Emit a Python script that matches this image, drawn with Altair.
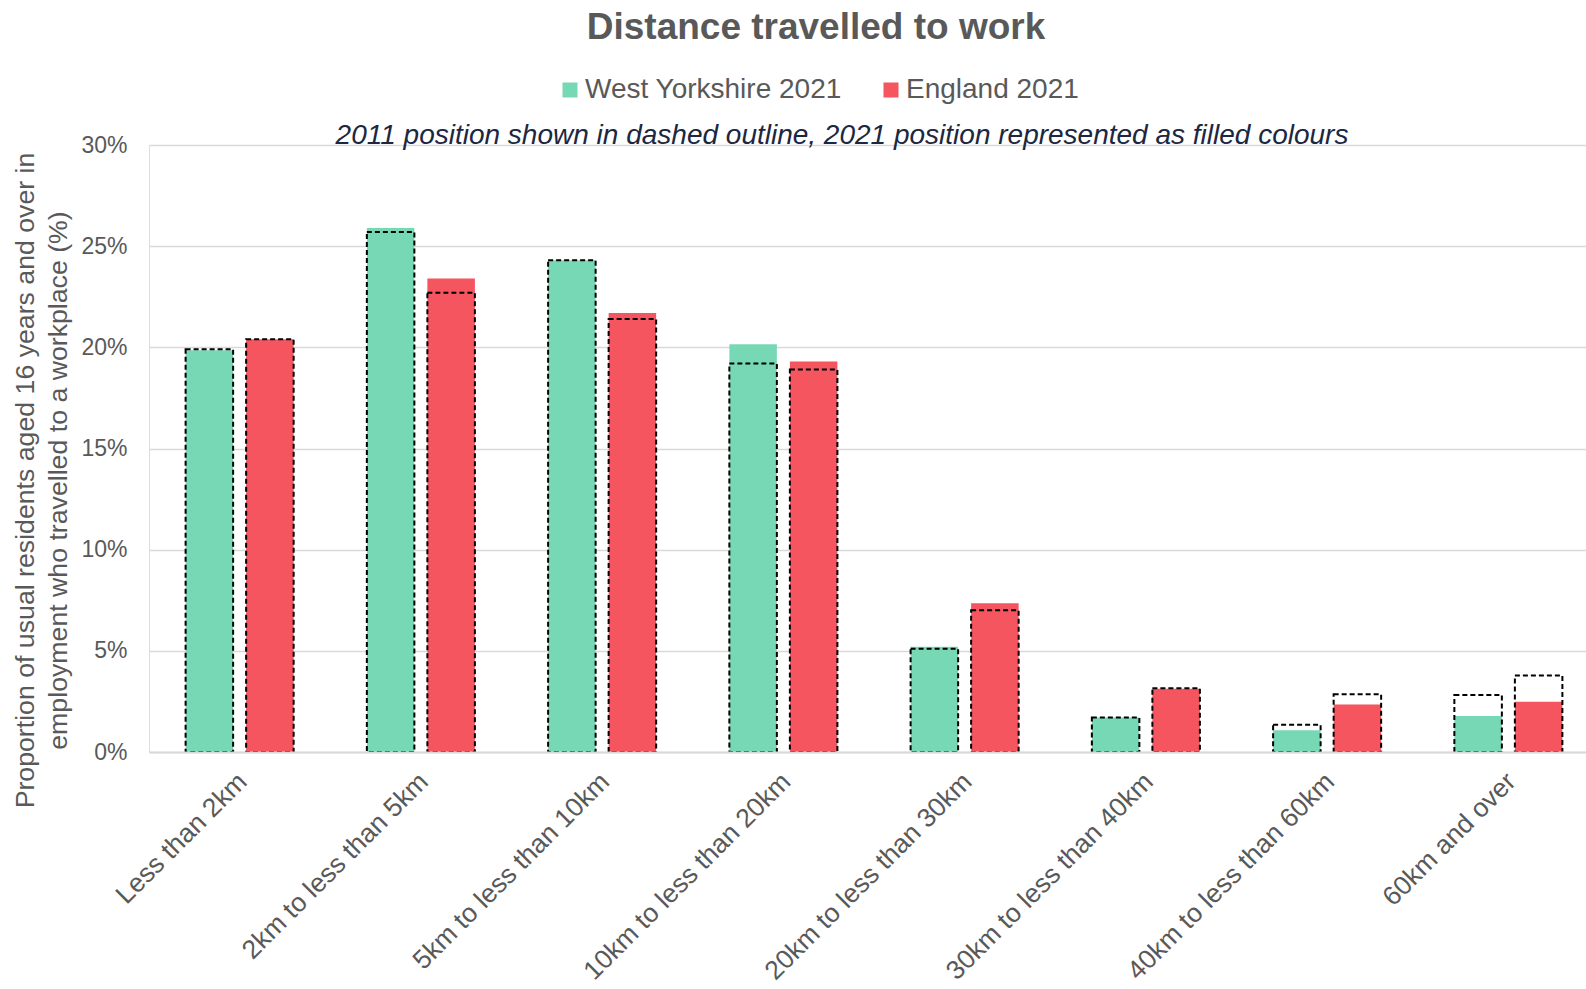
import altair as alt
import pandas as pd

categories = [
    "Less than 2km",
    "2km to less than 5km",
    "5km to less than 10km",
    "10km to less than 20km",
    "20km to less than 30km",
    "30km to less than 40km",
    "40km to less than 60km",
    "60km and over",
]
series_names = ["West Yorkshire 2021", "England 2021"]
series_colors = ["#77D8B6", "#F4555F"]

wy_2021 = [19.85, 25.9, 24.3, 20.15, 5.2, 1.7, 1.07, 1.78]
eng_2021 = [20.4, 23.4, 21.7, 19.3, 7.35, 3.12, 2.35, 2.48]
wy_2011 = [19.9, 25.7, 24.3, 19.2, 5.1, 1.7, 1.35, 2.82]
eng_2011 = [20.4, 22.7, 21.4, 18.9, 7.0, 3.15, 2.85, 3.78]

title_text = "Distance travelled to work"
subtitle_text = "2011 position shown in dashed outline, 2021 position represented as filled colours"
y_title = ["Proportion of usual residents aged 16 years and over in",
           "employment who travelled to a workplace (%)"]

rows = []
for i, c in enumerate(categories):
    rows.append({"category": c, "series": series_names[0], "v2021": wy_2021[i], "v2011": wy_2011[i]})
    rows.append({"category": c, "series": series_names[1], "v2021": eng_2021[i], "v2011": eng_2011[i]})
df = pd.DataFrame(rows)

GREY = "#595959"

x_enc = alt.X(
    "category:N",
    sort=categories,
    scale=alt.Scale(range=[0, 1450], paddingInner=0.404, paddingOuter=0.202),
    axis=alt.Axis(
        title=None,
        labelAngle=-45,
        labelFontSize=26.5,
        labelColor=GREY,
        labelFont="Liberation Sans",
        labelPadding=16,
        labelOffset=-6,
        ticks=False,
        domain=True,
        domainColor="#D9D9D9",
        domainWidth=2,
        zindex=1,
        labelLimit=0,
    ),
)
xo_enc = alt.XOffset(
    "series:N",
    sort=series_names,
    scale=alt.Scale(paddingInner=0.215, paddingOuter=0),
)

y_scale = alt.Scale(domain=[0, 30], nice=False)
y_axis = alt.Axis(
    values=[0, 5, 10, 15, 20, 25, 30],
    labelExpr="datum.value + '%'",
    labelFontSize=23,
    labelColor=GREY,
    labelFont="Liberation Sans",
    labelPadding=22,
    ticks=False,
    domain=False,
    grid=True,
    gridColor="#D9D9D9",
    gridWidth=1.5,
    title=y_title,
    titleFontSize=26.7,
    titleFontWeight="normal",
    titleColor=GREY,
    titleFont="Liberation Sans",
    titleLineHeight=33,
    titleAngle=270,
    titleBaseline="top",
    titleAlign="center",
    titleX=-137,
    titleY=335,
)

base = alt.Chart(df).encode(x=x_enc, xOffset=xo_enc)

fill = base.mark_bar().encode(
    y=alt.Y("v2021:Q", scale=y_scale, axis=y_axis),
    color=alt.Color(
        "series:N",
        sort=series_names,
        scale=alt.Scale(domain=series_names, range=series_colors),
        legend=alt.Legend(
            title=None,
            orient="none",
            direction="horizontal",
            legendX=407,
            legendY=-69,
            symbolType="square",
            symbolSize=225,
            symbolStrokeWidth=0,
            symbolOpacity=1,
            labelFontSize=28,
            labelColor=GREY,
            labelFont="Liberation Sans",
            labelOffset=1,
            columnPadding=35,
            labelLimit=0,
        ),
    ),
)

outline = base.mark_bar(
    fillOpacity=0, stroke="black", strokeWidth=2, strokeDash=[5, 3]
).encode(y=alt.Y("v2011:Q", scale=y_scale))

title_layer = alt.Chart(pd.DataFrame({"t": [title_text]})).mark_text(
    font="Liberation Sans", fontSize=37, fontWeight="bold", color=GREY,
    align="center", baseline="middle",
).encode(text="t:N", x=alt.value(667), y=alt.value(-117))

subtitle_layer = alt.Chart(pd.DataFrame({"t": [subtitle_text]})).mark_text(
    font="Liberation Sans", fontSize=28, fontStyle="italic", color="#1C2742",
    align="center", baseline="middle",
).encode(text="t:N", x=alt.value(693), y=alt.value(-9))

chart = alt.layer(fill, outline, title_layer, subtitle_layer).properties(
    width=1437,
    height=607,
    autosize=alt.AutoSizeParams(type="none"),
    padding={"left": 149, "top": 145, "right": 0, "bottom": 237},
).configure_view(stroke=None).configure(background="white")

chart.save("out.html", embed_options={"renderer": "svg", "actions": False})
